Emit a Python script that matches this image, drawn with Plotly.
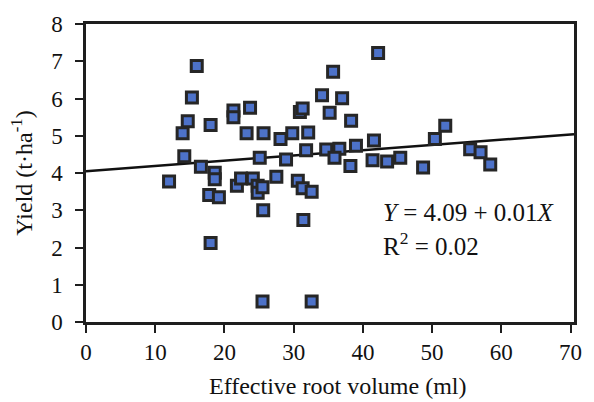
import plotly.graph_objects as go

root_volume = [16.0, 15.3, 14.7, 13.96, 14.2, 12.0, 16.6, 18.0, 18.6, 18.6, 17.8, 19.2, 18.0,
               21.3, 21.3, 23.7, 23.2, 25.65, 21.8, 22.4, 24.1, 24.8, 24.8, 25.5, 25.6, 25.1,
               27.5, 28.1, 28.9, 29.8, 30.9, 31.3, 32.1, 30.6, 31.3, 32.6, 31.4, 25.5, 32.6,
               31.8, 34.1, 35.7, 37.0, 35.2, 38.3, 42.2, 34.7, 36.6, 39.0, 41.6, 35.9, 38.2,
               41.4, 43.5, 45.4, 48.7, 50.4, 51.9, 55.5, 57.0, 58.4]
yield_t = [6.87, 6.03, 5.39, 5.07, 4.45, 3.77, 4.17, 5.29, 4.01, 3.83, 3.41, 3.35, 2.12,
           5.68, 5.50, 5.75, 5.07, 5.07, 3.66, 3.85, 3.85, 3.66, 3.47, 3.62, 3.00, 4.41,
           3.90, 4.91, 4.36, 5.07, 5.64, 5.73, 5.09, 3.79, 3.59, 3.50, 2.74, 0.55, 0.55,
           4.61, 6.09, 6.72, 6.01, 5.62, 5.40, 7.22, 4.63, 4.65, 4.73, 4.87, 4.41, 4.19,
           4.34, 4.31, 4.41, 4.15, 4.91, 5.27, 4.64, 4.56, 4.23]

fit_x = [0, 70.5]
fit_y = [4.05, 5.04]

x_ticks = [0, 10, 20, 30, 40, 50, 60, 70]
y_ticks = [0, 1, 2, 3, 4, 5, 6, 7, 8]

font_family = "Liberation Serif"
ink = "#1e1e1e"

fig = go.Figure()
fig.add_trace(go.Scatter(x=fit_x, y=fit_y, mode="lines",
                         line=dict(color="#111111", width=2.5), showlegend=False, hoverinfo="skip"))
fig.add_trace(go.Scatter(x=root_volume, y=yield_t, mode="markers",
                         marker=dict(symbol="square", size=11, color="#4d72c9",
                                     line=dict(color="#262626", width=3)),
                         showlegend=False))

fig.add_annotation(x=42.6, y=2.95, xref="x", yref="y", xanchor="left", yanchor="middle",
                   text="<i>Y</i> = 4.09 + 0.01<i>X</i>", showarrow=False,
                   font=dict(family=font_family, size=25, color="#111"))
fig.add_annotation(x=42.6, y=2.10, xref="x", yref="y", xanchor="left", yanchor="middle",
                   text="R<sup>2</sup> = 0.02", showarrow=False,
                   font=dict(family=font_family, size=25, color="#111"))
fig.add_annotation(x=0.515, y=-0.215, xref="paper", yref="paper", xanchor="center", yanchor="middle",
                   text="Effective root volume (ml)", showarrow=False,
                   font=dict(family=font_family, size=24, color="#111"))

axis_common = dict(showline=True, linecolor=ink, linewidth=2.5, mirror=True,
                   ticks="outside", ticklen=8, tickwidth=2, tickcolor=ink,
                   showgrid=False, zeroline=False,
                   tickfont=dict(family=font_family, size=23, color="#111"))

fig.update_xaxes(range=[0, 70.5], tickvals=x_ticks, ticktext=[str(v) for v in x_ticks],
                 **axis_common)
fig.update_yaxes(range=[0, 8], tickvals=y_ticks, ticktext=[str(v) for v in y_ticks],
                 ticklabelstandoff=8,
                 title=dict(text="Yield (t·ha<sup>-1</sup>)", standoff=12,
                            font=dict(family=font_family, size=24, color="#111")),
                 **axis_common)

fig.update_layout(width=594, height=402, margin=dict(l=86, r=19, t=19, b=80),
                  paper_bgcolor="white", plot_bgcolor="white")

fig.write_html("out.html", config={"displayModeBar": False},
               post_script="document.body.style.margin='0';document.body.style.padding='0';")
